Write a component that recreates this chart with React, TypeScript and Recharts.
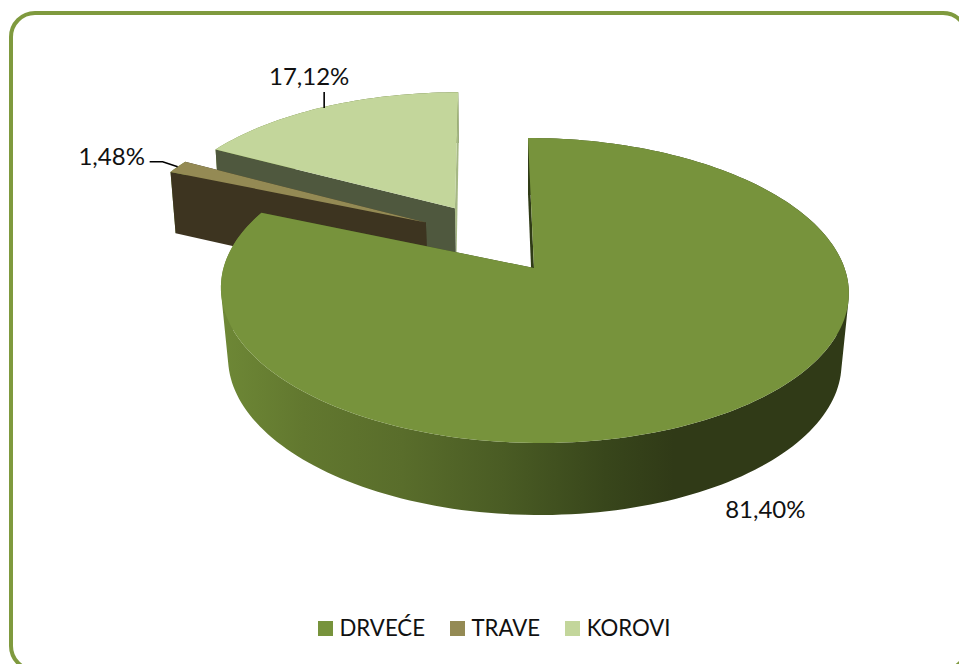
import React from "react";
import { PieChart, Pie, Legend } from "recharts";

// Data
const categories = ["DRVEĆE", "TRAVE", "KOROVI"];
const values = [81.4, 1.48, 17.12];
const colors = ["#77933c", "#948a54", "#c3d69b"];

// Pie draws back-to-front, so slices go counter-clockwise starting with the rear one.
const drawOrder = [2, 1, 0];
const pieData = drawOrder.map((i) => ({ name: categories[i], value: values[i], fill: colors[i] }));

// 3D look: perspective ground plane, units are outerRadius
const PERSP = 0.1475;
const SCALE_X = 3.105;
const SCALE_Y = 1.492;
const SKEW = 0.06;
const WALL = 0.72;
const WALL_BACK = 0.15;
const FOOT_SHRINK = 0.027;

const explode: Record<string, [number, number]> = {
  "DRVEĆE": [0, 0],
  "TRAVE": [-0.358, -0.32],
  "KOROVI": [-0.262, -0.425],
};
const wallColors: Record<string, [string, string]> = {
  "DRVEĆE": ["#3a4a1c", "#2f3b16"],
  "TRAVE": ["#3d3420", "#3d3420"],
  "KOROVI": ["#a6b885", "#4f583e"],
};
const labelOffset: Record<string, [number, number]> = {
  "DRVEĆE": [31, 99],
  "TRAVE": [-66, -11],
  "KOROVI": [-15, -31],
};

const rad = (d: number) => (d * Math.PI) / 180;

function project(cx: number, cy: number, r: number, u: number, v: number) {
  const w = 1 - PERSP * v;
  return {
    x: cx + (SCALE_X * r * u) / w + SKEW * r * v,
    y: cy + (SCALE_Y * r * v) / w,
  };
}

function foot(cx: number, cy: number, r: number, u: number, v: number) {
  const p = project(cx, cy, r, u, v);
  const h = (WALL - WALL_BACK * Math.max(0, -v)) * r;
  const k = Math.max(0, 0.8 + 0.4 * v);
  return { x: p.x + (cx - p.x) * FOOT_SHRINK * k, y: p.y + h };
}

type Pt = { x: number; y: number };
const toPath = (pts: Pt[]) =>
  "M" + pts.map((p) => `${p.x.toFixed(2)},${p.y.toFixed(2)}`).join("L") + "Z";

// One quad per rim segment, all wound the same way, so the strip never cancels where it folds.
function stripPath(top: Pt[], bottom: Pt[]) {
  let d = "";
  for (let i = 0; i < top.length - 1; i++) {
    const q = [top[i], top[i + 1], bottom[i + 1], bottom[i]];
    let area = 0;
    q.forEach((p, j) => {
      const o = q[(j + 1) % 4];
      area += p.x * o.y - o.x * p.y;
    });
    d += toPath(area >= 0 ? q : [...q].reverse());
  }
  return d;
}

function Slice3D(props: any) {
  const { cx, cy, outerRadius: r, startAngle, endAngle, fill, name } = props;
  const [ex, ey] = explode[name];
  const uv = (a: number): [number, number] => [ex + Math.cos(rad(a)), ey - Math.sin(rad(a))];
  const n = Math.max(4, Math.ceil(Math.abs(endAngle - startAngle) / 1.5));
  const angles: number[] = [];
  for (let i = 0; i <= n; i++) angles.push(startAngle + ((endAngle - startAngle) * i) / n);

  const apex = project(cx, cy, r, ex, ey);
  const apexFoot = foot(cx, cy, r, ex, ey);
  const rim = angles.map((a) => project(cx, cy, r, ...uv(a)));
  const rimFoot = angles.map((a) => foot(cx, cy, r, ...uv(a)));
  const gradId = `rim-${categories.indexOf(name)}`;
  const [startWall, endWall] = wallColors[name];
  const faces = [
    { d: toPath([apex, rim[0], rimFoot[0], apexFoot]), c: startWall, depth: rim[0].y },
    { d: toPath([apex, rim[n], rimFoot[n], apexFoot]), c: endWall, depth: rim[n].y },
  ].sort((a, b) => a.depth - b.depth);

  return (
    <g>
      <defs>
        <linearGradient id={gradId} gradientUnits="userSpaceOnUse" x1={cx - 3.13 * r} x2={cx + 1.4 * r} y1={0} y2={0}>
          <stop offset="0" stopColor="#6e8836" />
          <stop offset="0.18" stopColor="#62782f" />
          <stop offset="0.4" stopColor="#596d2b" />
          <stop offset="0.62" stopColor="#4a5c24" />
          <stop offset="0.85" stopColor="#38461b" />
          <stop offset="1" stopColor="#303a17" />
        </linearGradient>
      </defs>
      <path d={stripPath(rim, rimFoot)} fill={`url(#${gradId})`} />
      {faces.map((f, i) => (
        <path key={i} d={f.d} fill={f.c} />
      ))}
      <path d={toPath([apex, ...rim])} fill={fill} />
    </g>
  );
}

function SliceLabel(props: any) {
  const { cx, cy, outerRadius: r, midAngle, name, value } = props;
  const [ex, ey] = explode[name];
  const m = rad(midAngle);
  const rimMid = project(cx, cy, r, ex + Math.cos(m), ey - Math.sin(m));
  const [ox, oy] = labelOffset[name];
  const tx = rimMid.x + ox;
  const ty = rimMid.y + oy;
  const text = value.toFixed(2).replace(".", ",") + "%";
  let line: string | null = null;
  if (name === "KOROVI") line = `M${rimMid.x},${rimMid.y + 1}V${rimMid.y - 15}`;
  if (name === "TRAVE") line = `M${rimMid.x},${rimMid.y}L${rimMid.x - 15},${rimMid.y - 5}H${rimMid.x - 28}`;
  return (
    <g>
      {line && <path d={line} fill="none" stroke="#000" strokeWidth={1.6} />}
      <text x={tx} y={ty} textAnchor="middle" dominantBaseline="central" fontFamily="Lato" fontSize={24} fill="#111">
        {text}
      </text>
    </g>
  );
}

function LegendRow() {
  return (
    <div style={{ display: "flex", alignItems: "center", fontFamily: "Lato", fontSize: 22.2, color: "#111", lineHeight: "28px" }}>
      {categories.map((c, i) => (
        <div key={c} style={{ display: "flex", alignItems: "center", marginRight: 25 }}>
          <span style={{ width: 15, height: 15, background: colors[i], marginRight: 6.5, display: "inline-block" }} />
          <span>{c}</span>
        </div>
      ))}
    </div>
  );
}

export default function App() {
  return (
    <div style={{ position: "absolute", left: 0, top: 0, width: 959, height: 664, overflow: "hidden", background: "#fff" }}>
      <div
        style={{
          position: "absolute",
          left: 9,
          top: 11,
          width: 960,
          height: 661,
          boxSizing: "border-box",
          border: "4px solid #7f9a3e",
          borderRadius: 26,
        }}
      />
      <div style={{ position: "absolute", left: 0, top: 0 }}>
        <PieChart width={959} height={664} margin={{ top: 0, right: 0, bottom: 0, left: 0 }}>
          <Pie
            data={pieData}
            dataKey="value"
            nameKey="name"
            cx={534}
            cy={268}
            outerRadius={100}
            startAngle={90}
            endAngle={450}
            stroke="none"
            isAnimationActive={false}
            shape={Slice3D}
            label={SliceLabel}
            labelLine={false}
          />
          <Legend
            content={LegendRow}
            wrapperStyle={{ position: "absolute", left: 318, top: 614, width: "auto" }}
          />
        </PieChart>
      </div>
    </div>
  );
}
